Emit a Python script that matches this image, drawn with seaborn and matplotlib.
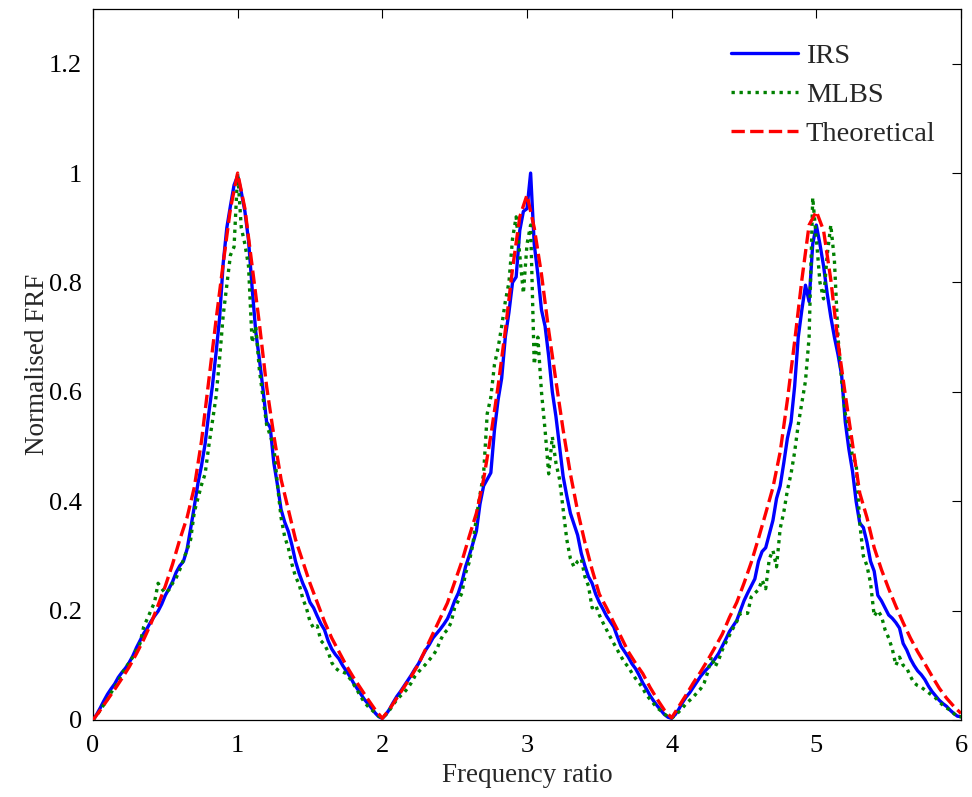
import numpy as np
import pandas as pd
import matplotlib
matplotlib.use("Agg")
import matplotlib.pyplot as plt
import seaborn as sns

# ---------------- data ----------------
x_ticks = [0, 1, 2, 3, 4, 5, 6]
y_ticks = [0, 0.2, 0.4, 0.6, 0.8, 1.0, 1.2]
y_tick_labels = ["0", "0.2", "0.4", "0.6", "0.8", "1", "1.2"]
series_names = ["IRS", "MLBS", "Theoretical"]

# Theoretical FRF sampled every 0.05 in frequency ratio
theo_p1 = [0.000, 0.018, 0.037, 0.056, 0.076, 0.097, 0.121, 0.147, 0.176, 0.210,
           0.245, 0.285, 0.330, 0.370, 0.425, 0.510, 0.620, 0.730, 0.835, 0.935,
           1.000, 0.935, 0.830, 0.725, 0.610, 0.520, 0.440, 0.385, 0.330, 0.290,
           0.250, 0.215, 0.180, 0.150, 0.125, 0.100, 0.078, 0.058, 0.038, 0.019,
           0.003]
theo_p2 = [0.020, 0.040, 0.060, 0.080, 0.102, 0.130, 0.158, 0.186, 0.214, 0.252,
           0.290, 0.335, 0.378, 0.440, 0.520, 0.610, 0.712, 0.825, 0.920, 0.960,
           0.900, 0.815, 0.712, 0.620, 0.530, 0.450, 0.382, 0.325, 0.275, 0.230,
           0.205, 0.178, 0.152, 0.125, 0.104, 0.085, 0.060, 0.038, 0.018, 0.004]
theo_p3 = [0.025, 0.046, 0.068, 0.088, 0.110, 0.133, 0.157, 0.188, 0.215, 0.250,
           0.288, 0.332, 0.378, 0.425, 0.490, 0.585, 0.692, 0.805, 0.905, 0.930,
           0.895, 0.805, 0.690, 0.595, 0.505, 0.415, 0.370, 0.315, 0.275, 0.240,
           0.208, 0.178, 0.150, 0.125, 0.103, 0.080, 0.058, 0.040, 0.025, 0.012]

# IRS measurement sampled every 0.025
irs_p1 = [0.000, 0.010, 0.022, 0.035, 0.047, 0.057, 0.066, 0.078, 0.087, 0.095,
          0.105, 0.117, 0.132, 0.145, 0.158, 0.168, 0.180, 0.190, 0.199, 0.212,
          0.228, 0.240, 0.253, 0.270, 0.282, 0.290, 0.312, 0.350, 0.390, 0.432,
          0.465, 0.505, 0.560, 0.610, 0.670, 0.735, 0.835, 0.900, 0.940, 0.978,
          0.995, 0.965, 0.930, 0.877, 0.790, 0.710, 0.660, 0.605, 0.545, 0.535,
          0.470, 0.430, 0.385, 0.362, 0.345, 0.320, 0.290, 0.268, 0.250, 0.235,
          0.215, 0.205, 0.190, 0.176, 0.165, 0.145, 0.130, 0.120, 0.112, 0.100,
          0.090, 0.080, 0.068, 0.058, 0.048, 0.038, 0.030, 0.022, 0.013, 0.006,
          0.003]
irs_p2 = [0.010, 0.020, 0.032, 0.043, 0.052, 0.062, 0.072, 0.082, 0.093, 0.103,
          0.116, 0.128, 0.138, 0.150, 0.158, 0.166, 0.175, 0.185, 0.200, 0.218,
          0.232, 0.252, 0.280, 0.300, 0.322, 0.345, 0.395, 0.428, 0.440, 0.452,
          0.530, 0.585, 0.625, 0.700, 0.745, 0.800, 0.810, 0.895, 0.930, 0.935,
          1.000, 0.870, 0.815, 0.750, 0.720, 0.665, 0.600, 0.555, 0.500, 0.445,
          0.410, 0.378, 0.358, 0.338, 0.305, 0.282, 0.262, 0.250, 0.230, 0.215,
          0.203, 0.190, 0.180, 0.170, 0.152, 0.135, 0.125, 0.115, 0.103, 0.094,
          0.082, 0.068, 0.057, 0.045, 0.035, 0.026, 0.018, 0.010, 0.005, 0.003]
irs_p3 = [0.010, 0.020, 0.032, 0.042, 0.050, 0.060, 0.070, 0.080, 0.088, 0.095,
          0.103, 0.112, 0.122, 0.135, 0.148, 0.162, 0.172, 0.182, 0.200, 0.218,
          0.232, 0.245, 0.258, 0.290, 0.308, 0.315, 0.340, 0.365, 0.405, 0.428,
          0.470, 0.515, 0.545, 0.610, 0.700, 0.750, 0.795, 0.765, 0.870, 0.905,
          0.870, 0.830, 0.780, 0.737, 0.700, 0.668, 0.630, 0.545, 0.495, 0.455,
          0.400, 0.360, 0.352, 0.325, 0.290, 0.272, 0.228, 0.218, 0.205, 0.192,
          0.186, 0.178, 0.168, 0.140, 0.128, 0.112, 0.100, 0.090, 0.083, 0.074,
          0.062, 0.052, 0.044, 0.036, 0.030, 0.025, 0.018, 0.012, 0.007, 0.006]

# MLBS measurement sampled every 0.025
mlbs_p1 = [0.000, 0.008, 0.018, 0.028, 0.038, 0.050, 0.060, 0.070, 0.085, 0.095,
           0.105, 0.115, 0.128, 0.140, 0.170, 0.185, 0.200, 0.215, 0.250, 0.240,
           0.232, 0.238, 0.250, 0.260, 0.275, 0.293, 0.311, 0.330, 0.380, 0.405,
           0.430, 0.450, 0.500, 0.545, 0.590, 0.660, 0.740, 0.795, 0.850, 0.865,
           1.000, 0.900, 0.870, 0.830, 0.690, 0.720, 0.640, 0.590, 0.540, 0.520,
           0.500, 0.430, 0.370, 0.335, 0.315, 0.285, 0.262, 0.248, 0.222, 0.205,
           0.180, 0.168, 0.172, 0.145, 0.138, 0.125, 0.105, 0.095, 0.090, 0.088,
           0.085, 0.076, 0.066, 0.055, 0.043, 0.033, 0.025, 0.019, 0.013, 0.007,
           0.004]
mlbs_p2 = [0.010, 0.018, 0.028, 0.037, 0.044, 0.050, 0.058, 0.068, 0.080, 0.088,
           0.095, 0.102, 0.110, 0.118, 0.128, 0.145, 0.158, 0.165, 0.178, 0.205,
           0.218, 0.232, 0.268, 0.288, 0.320, 0.370, 0.412, 0.450, 0.560, 0.590,
           0.650, 0.680, 0.720, 0.765, 0.800, 0.880, 0.920, 0.850, 0.780, 0.870,
           0.905, 0.650, 0.700, 0.600, 0.530, 0.450, 0.518, 0.470, 0.440, 0.385,
           0.330, 0.295, 0.280, 0.290, 0.295, 0.262, 0.245, 0.205, 0.210, 0.192,
           0.178, 0.165, 0.152, 0.140, 0.128, 0.116, 0.105, 0.097, 0.086, 0.076,
           0.068, 0.058, 0.046, 0.038, 0.030, 0.022, 0.017, 0.011, 0.006, 0.004]
mlbs_p3 = [0.008, 0.015, 0.022, 0.030, 0.036, 0.042, 0.050, 0.057, 0.068, 0.088,
           0.116, 0.097, 0.110, 0.128, 0.142, 0.155, 0.168, 0.180, 0.195, 0.195,
           0.195, 0.225, 0.232, 0.238, 0.256, 0.240, 0.295, 0.310, 0.280, 0.350,
           0.380, 0.420, 0.450, 0.490, 0.540, 0.580, 0.620, 0.700, 0.955, 0.880,
           0.800, 0.770, 0.850, 0.905, 0.840, 0.700, 0.620, 0.560, 0.530, 0.480,
           0.470, 0.360, 0.300, 0.282, 0.250, 0.190, 0.200, 0.190, 0.165, 0.150,
           0.130, 0.100, 0.115, 0.100, 0.095, 0.080, 0.068, 0.063, 0.060, 0.055,
           0.050, 0.045, 0.040, 0.033, 0.027, 0.022, 0.018, 0.012, 0.006, 0.006]

# ---------------- assemble ----------------
theo = theo_p1 + theo_p2 + theo_p3
irs = irs_p1 + irs_p2 + irs_p3
mlbs = mlbs_p1 + mlbs_p2 + mlbs_p3

df_irs = pd.DataFrame({"ratio": np.linspace(0, 6, len(irs)), "frf": irs})
df_mlbs = pd.DataFrame({"ratio": np.linspace(0, 6, len(mlbs)), "frf": mlbs})
df_theo = pd.DataFrame({"ratio": np.linspace(0, 6, len(theo)), "frf": theo})

# ---------------- style ----------------
sns.set_style("white")
plt.rcParams["font.family"] = ["Liberation Serif", "DejaVu Serif"]
plt.rcParams["font.size"] = 19

fig = plt.figure(figsize=(9.72, 7.97), dpi=100)
ax = fig.add_axes([93 / 972, 1 - 720 / 797, (961 - 93) / 972, (720 - 9) / 797])

lw = 2.4
sns.lineplot(data=df_irs, x="ratio", y="frf", ax=ax, color="#0000ff",
             linewidth=lw, label=series_names[0], estimator=None, sort=False)
sns.lineplot(data=df_mlbs, x="ratio", y="frf", ax=ax, color="#008000",
             linewidth=lw, label=series_names[1], estimator=None, sort=False)
sns.lineplot(data=df_theo, x="ratio", y="frf", ax=ax, color="#ff0000",
             linewidth=lw, label=series_names[2], estimator=None, sort=False)

lines = ax.get_lines()
lines[1].set_dashes([1.0, 1.4])
lines[2].set_dashes([4.0, 1.6])
for i, ln in enumerate(lines):
    ln.set_zorder(2 + i)

ax.set_xlim(0, 6)
ax.set_ylim(0, 1.3)
ax.set_xticks(x_ticks)
ax.set_xticklabels([str(t) for t in x_ticks])
ax.set_yticks(y_ticks)
ax.set_yticklabels(y_tick_labels)
ax.tick_params(direction="in", length=6.5, width=0.8, top=True, right=True,
               labelsize=19, colors="black")
ax.tick_params(axis="y", pad=8)
ax.tick_params(axis="x", pad=11)
for sp in ax.spines.values():
    sp.set_visible(True)
    sp.set_color("black")
    sp.set_linewidth(0.9)

ax.set_xlabel("Frequency ratio", fontsize=19.5, labelpad=4)
ax.set_ylabel("Normalised FRF", fontsize=19.5, labelpad=-1)

leg = ax.legend(frameon=False, loc="upper left", bbox_to_anchor=(0.735, 0.952),
                handlelength=2.35, handletextpad=0.28, labelspacing=0.45,
                fontsize=20.5, borderaxespad=0.0, borderpad=0.0)

fig.savefig("out.png", dpi=100)
